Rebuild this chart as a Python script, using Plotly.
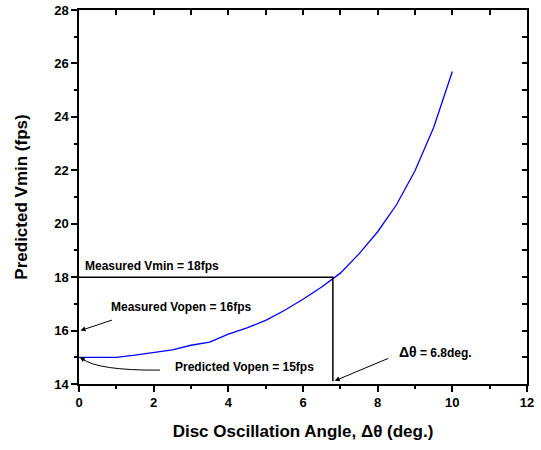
import plotly.graph_objects as go

# Data
angle = [0, 0.5, 1, 1.5, 2, 2.5, 3, 3.5, 4, 4.5, 5, 5.5, 6, 6.5, 7, 7.5, 8, 8.5, 9, 9.5, 10]
vmin = [15.0, 15.0, 15.0, 15.08, 15.17, 15.28, 15.45, 15.57, 15.87, 16.1, 16.38, 16.75, 17.17, 17.63, 18.15, 18.87, 19.7, 20.7, 21.98, 23.6, 25.7]

measured_vmin = 18
measured_vopen = 16
predicted_vopen = 15
delta_theta = 6.8

x_range = [0, 12]
y_range = [14, 28]

FONT = "Liberation Sans, Arial, sans-serif"

fig = go.Figure()

fig.add_trace(go.Scatter(x=angle, y=vmin, mode="lines",
                         line=dict(color="#0000ff", width=1.3),
                         showlegend=False, hoverinfo="skip"))

# guide lines
fig.add_trace(go.Scatter(x=[x_range[0], delta_theta, delta_theta],
                         y=[measured_vmin, measured_vmin, 14.1],
                         mode="lines", line=dict(color="black", width=1.5),
                         showlegend=False, hoverinfo="skip"))

# invisible trace for top/right mirrored axes
fig.add_trace(go.Scatter(x=x_range, y=y_range, xaxis="x2", yaxis="y2",
                         mode="markers", marker=dict(opacity=0),
                         showlegend=False, hoverinfo="skip"))

# curved arrow for Predicted Vopen
fig.add_shape(type="path", path="M 2.17,14.52 Q 0.5,14.5 0.08,14.95",
              line=dict(color="black", width=1), xref="x", yref="y")

tf = dict(family=FONT, size=12, color="black", weight="bold")
annotations = [
    dict(x=0.1, y=measured_vmin + 0.42, text="Measured Vmin = 18fps",
         showarrow=False, xanchor="left", yanchor="middle", font=tf),
    dict(x=2.73, y=16.9, text="Measured Vopen = 16fps",
         showarrow=False, xanchor="center", yanchor="middle", font=tf),
    dict(x=4.44, y=14.62, text="Predicted Vopen = 15fps",
         showarrow=False, xanchor="center", yanchor="middle", font=tf),
    dict(x=9.55, y=15.2, text="<span style='font-size:14px'>Δθ</span> = 6.8deg.",
         showarrow=False, xanchor="center", yanchor="middle", font=tf),
    # arrows
    dict(x=0.04, y=measured_vopen, ax=33, ay=-11, text="", showarrow=True,
         arrowhead=2, arrowsize=1, arrowwidth=1, arrowcolor="black",
         xref="x", yref="y"),
    dict(x=delta_theta + 0.05, y=14.12, ax=55, ay=-23, text="", showarrow=True,
         arrowhead=2, arrowsize=1, arrowwidth=1, arrowcolor="black",
         xref="x", yref="y"),
    dict(x=0.02, y=predicted_vopen, ax=7, ay=4, text="", showarrow=True,
         arrowhead=2, arrowsize=1, arrowwidth=1, arrowcolor="black",
         xref="x", yref="y"),
]

axis_common = dict(showgrid=False, zeroline=False, showline=True, automargin=False,
                   linecolor="black", linewidth=1.5,
                   ticks="outside", ticklen=6, tickwidth=1.5, tickcolor="black",
                   tickfont=dict(family=FONT, size=13, color="black", weight="bold"))

title_font = dict(family=FONT, size=17, color="black", weight="bold")

fig.update_layout(
    width=541, height=450,
    margin=dict(l=79, r=14, t=10, b=66),
    paper_bgcolor="white", plot_bgcolor="white",
    xaxis=dict(range=x_range, dtick=2, tick0=0,
               minor=dict(dtick=1, ticks="outside", ticklen=3, tickcolor="black", tickwidth=1.5),
               title=dict(text="Disc Oscillation Angle, Δθ (deg.)",
                          font=title_font, standoff=16),
               **axis_common),
    yaxis=dict(range=y_range, dtick=2, tick0=14,
               minor=dict(dtick=1, ticks="outside", ticklen=3, tickcolor="black", tickwidth=1.5),
               title=dict(text="Predicted Vmin (fps)",
                          font=title_font, standoff=22),
               **axis_common),
    xaxis2=dict(range=x_range, overlaying="x", side="top", anchor="y", automargin=False,
                showgrid=False, zeroline=False, showline=True, linecolor="black", linewidth=1.5,
                ticks="inside", ticklen=5, tickwidth=1.5, tickcolor="black",
                dtick=1, tick0=0, showticklabels=False),
    yaxis2=dict(range=y_range, overlaying="y", side="right", anchor="x", automargin=False,
                showgrid=False, zeroline=False, showline=True, linecolor="black", linewidth=1.5,
                ticks="inside", ticklen=5, tickwidth=1.5, tickcolor="black",
                dtick=1, tick0=14, showticklabels=False),
    annotations=annotations,
    font=dict(family=FONT, color="black"),
)

fig.write_html("out.html", config={"displayModeBar": False},
               post_script="document.body.style.margin='0px';document.body.style.overflow='hidden';")
